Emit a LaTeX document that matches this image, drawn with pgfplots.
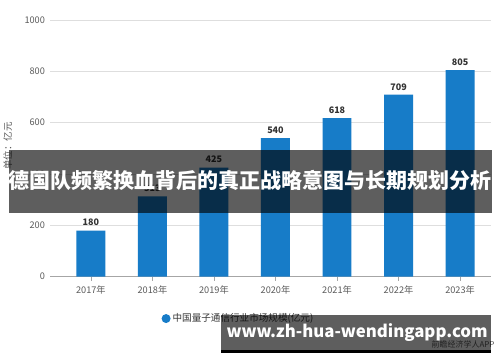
\documentclass[border=0pt]{standalone}
\usepackage{pgfplots}
\pgfplotsset{compat=1.18}
\usepackage{fontspec}
\setmainfont{Noto Sans CJK SC}
\definecolor{barblue}{RGB}{23,124,200}
\definecolor{ticktext}{RGB}{90,90,90}
\definecolor{valtext}{RGB}{51,51,51}
\begin{document}
\begin{tikzpicture}
\fill[white] (0pt,0pt) rectangle (500pt,362pt);
\begin{axis}[
  at={(50pt,85pt)}, anchor=south west,
  scale only axis, width=441pt, height=257pt,
  xmin=-0.657, xmax=6.503, ymin=0, ymax=1000,
  axis x line*=bottom, axis y line*=left,
  y axis line style={draw=none},
  x axis line style={draw=black!35, line width=0.8pt},
  ytick={0,200,400,600,800,1000},
  ytick style={draw=none},
  xtick={0,1,2,3,4,5,6},
  xticklabels={2017年,2018年,2019年,2020年,2021年,2022年,2023年},
  xtick style={draw=black!35, line width=0.6pt},
  tick align=outside, major tick length=4pt,
  ymajorgrids, grid style={black!13, line width=0.6pt},
  tick label style={font=\fontsize{9.2}{10}\selectfont, text=ticktext},
  /pgf/number format/assume math mode=true,
  /pgf/number format/1000 sep={},
  yticklabel style={xshift=2pt},
  xticklabel style={yshift=-1pt},
  ylabel={单位：亿元}, ylabel style={font=\fontsize{9.5}{10}\selectfont, text=ticktext, at={(axis description cs:-0.097,0.51)}, anchor=center},
  nodes near coords,
  every node near coord/.append style={font=\bfseries\fontsize{9}{10}\selectfont, text=valtext, yshift=1pt},
  legend style={at={(axis description cs:0.245,-0.163)}, anchor=west, draw=none, fill=none, font=\fontsize{9.6}{10}\selectfont, text=valtext},
  legend image code/.code={\fill[barblue] (0pt,0pt) circle (4.5pt);},
  clip=false,
]
\addplot[ybar, bar width=29pt, fill=barblue, draw=none] coordinates {
  (0,180) (1,313) (2,425) (3,540) (4,618) (5,709) (6,805)};
\addlegendentry{中国量子通信行业市场规模(亿元)}
\end{axis}
\node[anchor=east, font=\fontsize{8}{9}\selectfont, text=ticktext] at (498pt,17pt) {前瞻经济学人APP};
% banners
\fill[black, opacity=0.63] (8pt,149pt) rectangle (492pt,212pt);
\node[text=white, font=\bfseries\fontsize{21}{24}\selectfont] at (250pt,181pt) {德国队频繁换血背后的真正战略意图与长期规划分析};
\fill[black, opacity=0.63] (221pt,12pt) rectangle (491pt,47pt);
\fill[black] (221pt,9pt) rectangle (491pt,12pt);
\node[text=white, font=\bfseries\fontsize{16.8}{20}\selectfont] at (357pt,29pt) {www.zh-hua-wendingapp.com};
\end{tikzpicture}
\end{document}
